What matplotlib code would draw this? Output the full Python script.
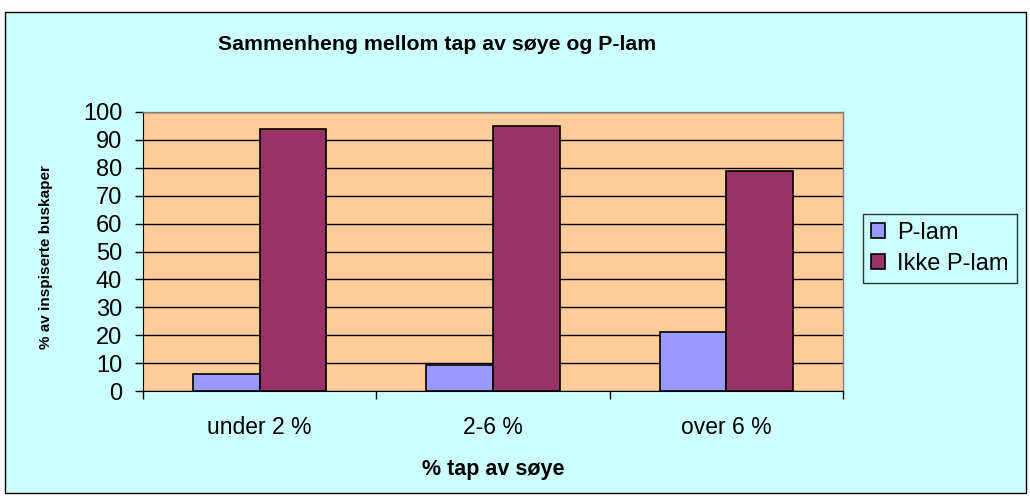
import matplotlib
matplotlib.use("Agg")
import matplotlib.pyplot as plt
from matplotlib.patches import Rectangle
import numpy as np

plt.rcParams["font.family"] = ["Liberation Sans", "DejaVu Sans"]

categories = ["under 2 %", "2-6 %", "over 6 %"]
p_lam = [6, 9.3, 21]
ikke_p_lam = [94, 95, 79]
series_names = ["P-lam", "Ikke P-lam"]

W, H = 1030, 496
fig = plt.figure(figsize=(W / 100, H / 100), dpi=100)
fig.patch.set_facecolor("white")

# chart area border / background
fig.patches.append(Rectangle((5 / W, 1 - 493 / H), 1021 / W, 481 / H,
                             transform=fig.transFigure, facecolor="#CCFFFF",
                             edgecolor="black", linewidth=1, zorder=-10))

ax = fig.add_axes([143 / W, 1 - 391 / H, 700 / W, 279 / H])
ax.set_zorder(1)
ax.set_facecolor("#FFCC99")

x = np.arange(len(categories))
bw = 1 / 3.5
ax.bar(x - bw / 2, p_lam, bw, color="#9999FF", edgecolor="black", linewidth=1.2,
       label=series_names[0], zorder=3)
ax.bar(x + bw / 2, ikke_p_lam, bw, color="#993366", edgecolor="black", linewidth=1.2,
       label=series_names[1], zorder=3)

ax.set_xlim(-0.5, len(categories) - 0.5)
ax.set_ylim(0, 100)
ax.set_yticks(range(0, 101, 10))
ax.yaxis.grid(True, color="black", linewidth=1, zorder=1)
ax.set_axisbelow(True)

ax.set_xticks(x)
ax.set_xticklabels(categories, fontsize=16.5)
ax.set_xticks(np.arange(-0.5, len(categories), 1), minor=True)
ax.tick_params(axis="x", which="major", length=0, pad=18)
ax.tick_params(axis="x", which="minor", length=6, width=1, direction="out")
ax.tick_params(axis="y", labelsize=17, length=6, width=1, direction="out", pad=9)

for s in ["top", "right"]:
    ax.spines[s].set_color("#808080")
    ax.spines[s].set_linewidth(1)
ax.spines["left"].set_color("black")
ax.spines["bottom"].set_color("black")

ax.set_xlabel("% tap av søye", fontsize=15.5, fontweight="bold", va="top")
ax.xaxis.set_label_coords(0.5, -0.242)
ax.set_ylabel("% av inspiserte buskaper", fontsize=11, fontweight="bold")
ax.yaxis.set_label_coords(-0.129, 0.48)

fig.text(437 / W, 1 - 45 / H, "Sammenheng mellom tap av søye og P-lam",
         fontsize=15.3, fontweight="bold", ha="center", va="center")

leg = ax.legend(loc="upper left", bbox_to_anchor=(863 / W, 1 - 214 / H),
                bbox_transform=fig.transFigure, fontsize=17, frameon=True,
                fancybox=False, edgecolor="black", facecolor="#CCFFFF",
                handlelength=0.6, handleheight=0.6, handletextpad=0.5,
                borderpad=0.35, labelspacing=0.35, borderaxespad=0)
leg.get_frame().set_linewidth(1)

fig.savefig("out.png", dpi=100)
